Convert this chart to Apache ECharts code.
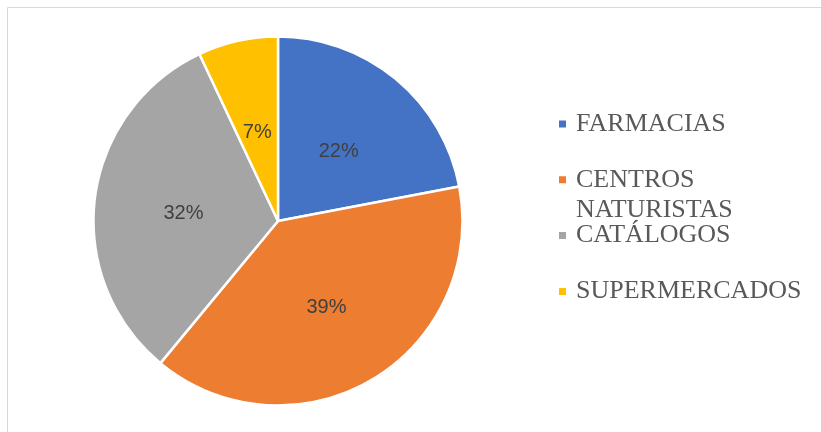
<!DOCTYPE html>
<html>
<head>
<meta charset="utf-8">
<script src="https://cdn.jsdelivr.net/npm/echarts@6/dist/echarts.min.js"></script>
<style>
  html, body { margin: 0; padding: 0; background: #fff; }
  #chart { width: 821px; height: 432px; }
</style>
</head>
<body>
<div id="chart"></div>
<script>
// datos del gráfico
const categories = ['FARMACIAS', 'CENTROS NATURISTAS', 'CATÁLOGOS', 'SUPERMERCADOS']
const values = [22, 39, 32, 7]
const colors = ['#4472C4', '#ED7D31', '#A5A5A5', '#FFC000']

const chart = echarts.init(document.getElementById('chart'))

// leyenda: cada caja mide 90px (3 líneas) para que el marcador quede en la línea del medio
const legendData = categories.map(name => {
  if (name === 'CENTROS NATURISTAS') {
    return { name, textStyle: { padding: [0, 0, 0, 4] } }
  }
  return { name, textStyle: { padding: [30, 0, 30, 4] } }
})

const option = {
  animation: false,
  color: colors,
  graphic: [{
    type: 'rect',
    shape: { x: 7.5, y: 7.5, width: 900, height: 600 },
    style: { fill: 'none', stroke: '#d9d9d9', lineWidth: 1 },
    silent: true
  }],
  legend: {
    orient: 'vertical',
    left: 557,
    top: 79,
    padding: 0,
    itemWidth: 9,
    itemHeight: 9,
    itemGap: -34.2,
    icon: 'rect',
    data: legendData,
    formatter: name => name === 'CENTROS NATURISTAS' ? '\nCENTROS\nNATURISTAS' : name,
    textStyle: {
      fontFamily: '"Liberation Serif", "Times New Roman", serif',
      fontSize: 26,
      lineHeight: 30,
      color: '#595959'
    }
  },
  series: [{
    type: 'pie',
    center: [278, 221],
    radius: 184.5,
    startAngle: 90,
    clockwise: true,
    data: categories.map((name, i) => ({ name, value: values[i] })),
    itemStyle: { borderColor: '#fff', borderWidth: 2.5 },
    label: {
      show: true,
      position: 'inside',
      formatter: '{c}%',
      offset: [0, 4],
      fontFamily: '"Liberation Sans", Arial, sans-serif',
      fontSize: 20,
      color: '#404040'
    },
    labelLine: { show: false },
    emphasis: { disabled: true }
  }]
}

chart.setOption(option)
</script>
</body>
</html>
